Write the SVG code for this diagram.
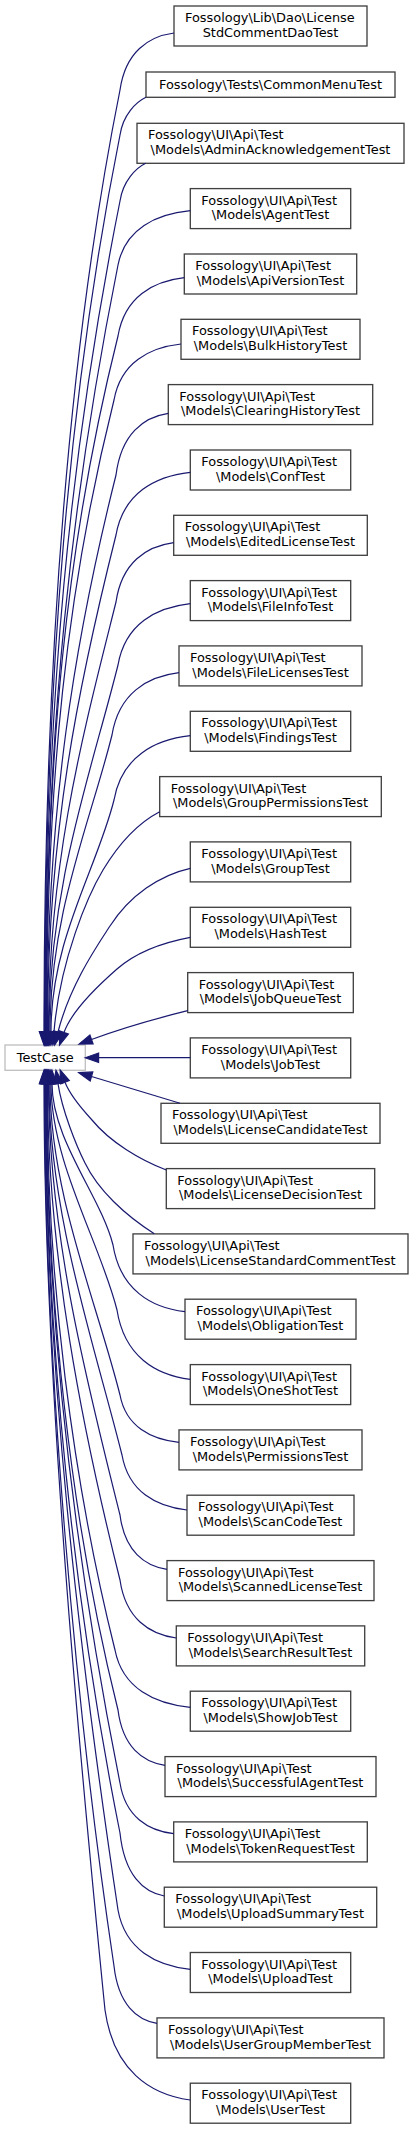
<svg xmlns="http://www.w3.org/2000/svg" width="413" height="2129" viewBox="0 0 413 2129">
<style>
text{font-family:"DejaVu Sans",sans-serif;font-size:12.9px;fill:#000}
.m{text-anchor:middle}
.n rect{fill:#fff;stroke:#404040;stroke-width:1.33}
.r rect{fill:#fff;stroke:#bfbfbf;stroke-width:1.33}
.e path{fill:none;stroke:#191970;stroke-width:1.2}
.e polygon{fill:#191970;stroke:#191970;stroke-width:1.2}
</style>
<rect width="413" height="2129" fill="#fff"/>
<g id="nodes">
<g id="TestCase" class="r"><rect x="5" y="1045" width="80.3" height="25.3"/><text class="m" x="45.2" y="1061.8">TestCase</text></g>
<g id="n1" class="n"><rect x="174" y="6" width="193" height="40"/><text x="185" y="22">Fossology\Lib\Dao\License</text><text class="m" x="270.5" y="36.7">StdCommentDaoTest</text></g>
<g id="n2" class="n"><rect x="146" y="72" width="249" height="25.3"/><text class="m" x="270.5" y="88.8">Fossology\Tests\CommonMenuTest</text></g>
<g id="n3" class="n"><rect x="137" y="123.3" width="267" height="40"/><text x="148" y="139.3">Fossology\UI\Api\Test</text><text class="m" x="270.5" y="154">\Models\AdminAcknowledgementTest</text></g>
<g id="n4" class="n"><rect x="190.3" y="188.6" width="160.4" height="40"/><text x="201.3" y="204.6">Fossology\UI\Api\Test</text><text class="m" x="270.5" y="219.3">\Models\AgentTest</text></g>
<g id="n5" class="n"><rect x="184.3" y="254" width="172.4" height="40"/><text x="195.3" y="270">Fossology\UI\Api\Test</text><text class="m" x="270.5" y="284.7">\Models\ApiVersionTest</text></g>
<g id="n6" class="n"><rect x="181" y="319.3" width="179" height="40"/><text x="192" y="335.3">Fossology\UI\Api\Test</text><text class="m" x="270.5" y="350">\Models\BulkHistoryTest</text></g>
<g id="n7" class="n"><rect x="168.3" y="384.6" width="204.4" height="40"/><text x="179.3" y="400.6">Fossology\UI\Api\Test</text><text class="m" x="270.5" y="415.3">\Models\ClearingHistoryTest</text></g>
<g id="n8" class="n"><rect x="190.3" y="450" width="160.4" height="40"/><text x="201.3" y="466">Fossology\UI\Api\Test</text><text class="m" x="270.5" y="480.7">\Models\ConfTest</text></g>
<g id="n9" class="n"><rect x="173.7" y="515.3" width="193.6" height="40"/><text x="184.7" y="531.3">Fossology\UI\Api\Test</text><text class="m" x="270.5" y="546">\Models\EditedLicenseTest</text></g>
<g id="n10" class="n"><rect x="190.3" y="580.6" width="160.4" height="40"/><text x="201.3" y="596.6">Fossology\UI\Api\Test</text><text class="m" x="270.5" y="611.3">\Models\FileInfoTest</text></g>
<g id="n11" class="n"><rect x="179" y="645.9" width="183" height="40"/><text x="190" y="661.9">Fossology\UI\Api\Test</text><text class="m" x="270.5" y="676.6">\Models\FileLicensesTest</text></g>
<g id="n12" class="n"><rect x="190.3" y="711.3" width="160.4" height="40"/><text x="201.3" y="727.3">Fossology\UI\Api\Test</text><text class="m" x="270.5" y="742">\Models\FindingsTest</text></g>
<g id="n13" class="n"><rect x="159.7" y="776.6" width="221.6" height="40"/><text x="170.7" y="792.6">Fossology\UI\Api\Test</text><text class="m" x="270.5" y="807.3">\Models\GroupPermissionsTest</text></g>
<g id="n14" class="n"><rect x="190.3" y="841.9" width="160.4" height="40"/><text x="201.3" y="857.9">Fossology\UI\Api\Test</text><text class="m" x="270.5" y="872.6">\Models\GroupTest</text></g>
<g id="n15" class="n"><rect x="190.3" y="907.3" width="160.4" height="40"/><text x="201.3" y="923.3">Fossology\UI\Api\Test</text><text class="m" x="270.5" y="938">\Models\HashTest</text></g>
<g id="n16" class="n"><rect x="187.7" y="972.6" width="165.6" height="40"/><text x="198.7" y="988.6">Fossology\UI\Api\Test</text><text class="m" x="270.5" y="1003.3">\Models\JobQueueTest</text></g>
<g id="n17" class="n"><rect x="190.3" y="1037.9" width="160.4" height="40"/><text x="201.3" y="1053.9">Fossology\UI\Api\Test</text><text class="m" x="270.5" y="1068.6">\Models\JobTest</text></g>
<g id="n18" class="n"><rect x="161" y="1103.3" width="219" height="40"/><text x="172" y="1119.3">Fossology\UI\Api\Test</text><text class="m" x="270.5" y="1134">\Models\LicenseCandidateTest</text></g>
<g id="n19" class="n"><rect x="166.3" y="1168.6" width="208.4" height="40"/><text x="177.3" y="1184.6">Fossology\UI\Api\Test</text><text class="m" x="270.5" y="1199.3">\Models\LicenseDecisionTest</text></g>
<g id="n20" class="n"><rect x="133" y="1233.9" width="275" height="40"/><text x="144" y="1249.9">Fossology\UI\Api\Test</text><text class="m" x="270.5" y="1264.6">\Models\LicenseStandardCommentTest</text></g>
<g id="n21" class="n"><rect x="185" y="1299.2" width="171" height="40"/><text x="196" y="1315.2">Fossology\UI\Api\Test</text><text class="m" x="270.5" y="1329.9">\Models\ObligationTest</text></g>
<g id="n22" class="n"><rect x="190.3" y="1364.6" width="160.4" height="40"/><text x="201.3" y="1380.6">Fossology\UI\Api\Test</text><text class="m" x="270.5" y="1395.3">\Models\OneShotTest</text></g>
<g id="n23" class="n"><rect x="179" y="1429.9" width="183" height="40"/><text x="190" y="1445.9">Fossology\UI\Api\Test</text><text class="m" x="270.5" y="1460.6">\Models\PermissionsTest</text></g>
<g id="n24" class="n"><rect x="187" y="1495.2" width="167" height="40"/><text x="198" y="1511.2">Fossology\UI\Api\Test</text><text class="m" x="270.5" y="1525.9">\Models\ScanCodeTest</text></g>
<g id="n25" class="n"><rect x="167" y="1560.6" width="207" height="40"/><text x="178" y="1576.6">Fossology\UI\Api\Test</text><text class="m" x="270.5" y="1591.3">\Models\ScannedLicenseTest</text></g>
<g id="n26" class="n"><rect x="176.3" y="1625.9" width="188.4" height="40"/><text x="187.3" y="1641.9">Fossology\UI\Api\Test</text><text class="m" x="270.5" y="1656.6">\Models\SearchResultTest</text></g>
<g id="n27" class="n"><rect x="190.3" y="1691.2" width="160.4" height="40"/><text x="201.3" y="1707.2">Fossology\UI\Api\Test</text><text class="m" x="270.5" y="1721.9">\Models\ShowJobTest</text></g>
<g id="n28" class="n"><rect x="165" y="1756.6" width="211" height="40"/><text x="176" y="1772.6">Fossology\UI\Api\Test</text><text class="m" x="270.5" y="1787.3">\Models\SuccessfulAgentTest</text></g>
<g id="n29" class="n"><rect x="173.7" y="1821.9" width="193.6" height="40"/><text x="184.7" y="1837.9">Fossology\UI\Api\Test</text><text class="m" x="270.5" y="1852.6">\Models\TokenRequestTest</text></g>
<g id="n30" class="n"><rect x="164.3" y="1887.2" width="212.4" height="40"/><text x="175.3" y="1903.2">Fossology\UI\Api\Test</text><text class="m" x="270.5" y="1917.9">\Models\UploadSummaryTest</text></g>
<g id="n31" class="n"><rect x="190.3" y="1952.5" width="160.4" height="40"/><text x="201.3" y="1968.5">Fossology\UI\Api\Test</text><text class="m" x="270.5" y="1983.2">\Models\UploadTest</text></g>
<g id="n32" class="n"><rect x="157" y="2017.9" width="227" height="40"/><text x="168" y="2033.9">Fossology\UI\Api\Test</text><text class="m" x="270.5" y="2048.6">\Models\UserGroupMemberTest</text></g>
<g id="n33" class="n"><rect x="190.3" y="2083.2" width="160.4" height="40"/><text x="201.3" y="2099.2">Fossology\UI\Api\Test</text><text class="m" x="270.5" y="2113.9">\Models\UserTest</text></g>
</g>
<g id="edges" class="e">
<g id="e1"><path d="M174,33 C148.6,36.4 125.4,51.8 120,90 C70,340 44,655 44,1031.7"/><polygon points="44,1045 39.3,1031.7 48.7,1031.7"/></g>
<g id="e2"><path d="M146,97.3 C136,102 123,115 120,135 C70,385 44.5,673 44.5,1031.7"/><polygon points="44.5,1045 39.8,1031.7 49.2,1031.7"/></g>
<g id="e3"><path d="M145.7,163.3 C136,168 123,181 120,201 C70.2,450.2 45,699.4 45,1031.7"/><polygon points="45,1045 40.3,1031.7 49.7,1031.7"/></g>
<g id="e4"><path d="M190.3,210.7 C156.3,214 125.2,228.6 118,265 C72,495 45.5,725 45.5,1031.7"/><polygon points="45.5,1045 40.8,1031.7 50.2,1031.7"/></g>
<g id="e5"><path d="M184.3,277.7 C153.1,281.2 124.6,296.9 118,336 C65.8,544.7 46,753.4 46,1031.7"/><polygon points="46,1045 41.3,1031.7 50.7,1031.7"/></g>
<g id="e6"><path d="M181,344 C149.5,347.4 120.7,362.5 114,400 C66.6,589.5 46.5,779 46.5,1031.7"/><polygon points="46.5,1045 41.8,1031.7 51.2,1031.7"/></g>
<g id="e7"><path d="M168.3,413.3 C143.7,417 121.2,433.7 116,475 C74.2,642 47,809 47,1031.7"/><polygon points="47,1045 42.3,1031.7 51.7,1031.7"/></g>
<g id="e8"><path d="M190.3,472.3 C155.4,476.1 123.4,493 116,535 C78.7,684 47.5,833 47.5,1031.7"/><polygon points="47.5,1045 42.8,1031.7 52.2,1031.7"/></g>
<g id="e9"><path d="M173.7,542.7 C146.6,546.3 121.8,562.3 116,602 C83.8,730.9 48.5,859.8 48.5,1031.7"/><polygon points="48.5,1045 43.8,1031.7 53.2,1031.7"/></g>
<g id="e10"><path d="M190.3,603.7 C156.3,607.4 125.2,623.9 118,665 C90.5,775 49,885 49,1031.7"/><polygon points="49,1045 44.3,1031.7 53.7,1031.7"/></g>
<g id="e11"><path d="M179,672.7 C147.5,676.4 118.7,693.3 112,735 C89.8,824 50,913 50,1031.7"/><polygon points="50,1045 45.3,1031.7 54.7,1031.7"/></g>
<g id="e12"><path d="M190.3,735.7 C154.4,739.6 121.6,756.9 114,800 C96.6,869.5 51,939 51,1031.7"/><polygon points="51,1045 46.3,1031.7 55.7,1031.7"/></g>
<g id="e13"><path d="M159.7,811.7 C138,823 118,845 103,870 C88,895 60,960 54,1031.7"/><polygon points="52.9,1045 58.65,1032.1 49.35,1031.3"/></g>
<g id="e14"><path d="M190.3,868.3 C160,875 130,895 110,926 C97,946 70,985 58,1032"/><polygon points="54.7,1044.9 62.5,1033.2 53.5,1030.8"/></g>
<g id="e15"><path d="M190.3,937.3 C160,943 135,953 117,969 C101,983 72,1010 64,1032.5"/><polygon points="59.5,1045 68.4,1034.1 59.6,1030.9"/></g>
<g id="e16"><path d="M187.7,1010.7 C150,1020 120,1029 91.5,1039.5"/><polygon points="79,1044.1 89.9,1035.1 93.1,1043.9"/></g>
<g id="e17"><path d="M190.3,1057.7 L98.6,1057.7"/><polygon points="85.3,1057.7 98.6,1053 98.6,1062.4"/></g>
<g id="e18"><path d="M180,1103.3 C150,1094 120,1085 91.5,1076.5"/><polygon points="78.8,1072.7 92.8,1072 90.2,1081"/></g>
<g id="e19"><path d="M166.3,1170 C140,1160 110,1142 92,1120 C80,1107 70,1095 65,1082.3"/><polygon points="60.1,1069.9 69.3,1080.6 60.7,1084"/></g>
<g id="e20"><path d="M154.3,1233.7 C125,1215 98,1190 85,1163 C76,1145 62,1110 58,1083.6"/><polygon points="56,1070.4 62.6,1082.9 53.4,1084.3"/></g>
<g id="e21"><path d="M185,1311.7 C151.2,1307.7 120.2,1289.7 113,1245 C100.9,1196.6 52,1140.1 52,1083.6"/><polygon points="52,1070.3 47.3,1083.6 56.7,1083.6"/></g>
<g id="e22"><path d="M190.3,1379.3 C155.8,1375.1 124.3,1356.4 117,1310 C100,1242.1 51,1162.8 51,1083.6"/><polygon points="51,1070.3 46.3,1083.6 55.7,1083.6"/></g>
<g id="e23"><path d="M179,1442.3 C151.3,1439.5 125.9,1426.7 120,1395 C96.6,1301.6 50,1192.6 50,1083.6"/><polygon points="50,1070.3 45.3,1083.6 54.7,1083.6"/></g>
<g id="e24"><path d="M187,1510 C156.4,1506.7 128.5,1491.8 122,1455 C94.2,1343.6 49,1213.6 49,1083.6"/><polygon points="49,1070.3 44.3,1083.6 53.7,1083.6"/></g>
<g id="e25"><path d="M167,1569.3 C144.9,1566 124.7,1551.4 120,1515 C87.7,1385.6 48.5,1234.6 48.5,1083.6"/><polygon points="48.5,1070.3 43.8,1083.6 53.2,1083.6"/></g>
<g id="e26"><path d="M176.3,1638 C149.8,1634.5 125.6,1618.9 120,1580 C82.8,1431.1 47.5,1257.3 47.5,1083.6"/><polygon points="47.5,1070.3 42.8,1083.6 52.2,1083.6"/></g>
<g id="e27"><path d="M190.3,1707.3 C154.9,1703.9 122.5,1688.4 115,1650 C72.5,1480.1 47,1281.8 47,1083.6"/><polygon points="47,1070.3 42.3,1083.6 51.7,1083.6"/></g>
<g id="e28"><path d="M165,1765.3 C142.9,1762 122.7,1747.1 118,1710 C71,1522.1 46.5,1302.8 46.5,1083.6"/><polygon points="46.5,1070.3 41.8,1083.6 51.2,1083.6"/></g>
<g id="e29"><path d="M173.7,1833.7 C148.5,1830.7 125.4,1817 120,1783 C78,1573.2 46,1328.4 46,1083.6"/><polygon points="46,1070.3 41.3,1083.6 50.7,1083.6"/></g>
<g id="e30"><path d="M164.3,1896 C143.5,1892.2 124.4,1875.2 120,1833 C75,1608.2 45.5,1345.9 45.5,1083.6"/><polygon points="45.5,1070.3 40.8,1083.6 50.2,1083.6"/></g>
<g id="e31"><path d="M190.3,1969.3 C156.3,1965.7 125.2,1949.7 118,1910 C80.8,1662.1 45,1372.8 45,1083.6"/><polygon points="45,1070.3 40.3,1083.6 49.7,1083.6"/></g>
<g id="e32"><path d="M157,2023.3 C136.8,2019.9 118.3,2004.4 114,1966 C76.5,1716 44.5,1366 44.5,1083.6"/><polygon points="44.5,1070.3 39.8,1083.6 49.2,1083.6"/></g>
<g id="e33"><path d="M190.3,2100 C150.2,2094.6 113.5,2070.3 105,2010 C80,1760 44,1380 44,1083.6"/><polygon points="44,1070.3 39.3,1083.6 48.7,1083.6"/></g>
</g>
</svg>
